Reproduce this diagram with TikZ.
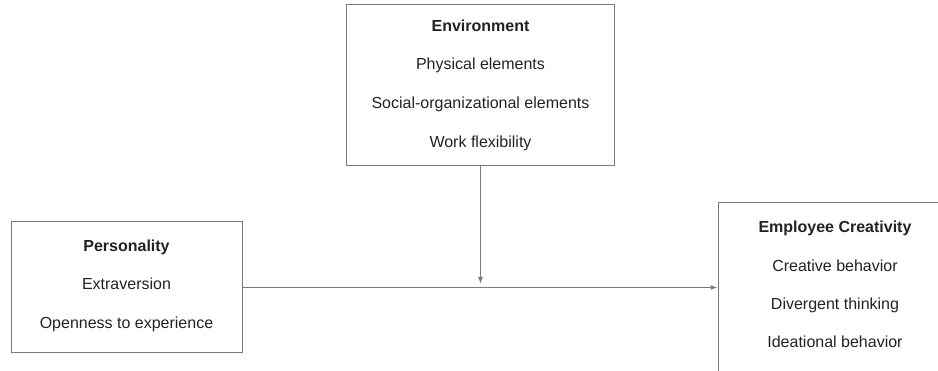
\documentclass[tikz,border=0pt]{standalone}
\usepackage{fontspec}
\setmainfont{Liberation Sans}
\usetikzlibrary{arrows.meta}
\definecolor{edge}{HTML}{7A7A7A}
\definecolor{ink}{HTML}{222222}
\begin{document}
\begin{tikzpicture}[x=1pt,y=-1pt,
  box/.style={draw=edge,line width=1pt,minimum width=#1,inner sep=0pt},
  label/.style={text=ink,font=\fontsize{16}{19}\selectfont,inner sep=0pt,
    text height=11.5pt,text depth=0pt,anchor=center},
  head/.style={label,font=\fontsize{16}{19}\selectfont\bfseries},
  link/.style={draw=edge,line width=1pt,-{Latex[length=7pt,width=5pt]}}]
\useasboundingbox (0,0) rectangle (938,371);
\clip (0,0) rectangle (938,371);

% Environment
\node[box=268pt,minimum height=161pt] (env) at (480.5,85.5) {};
\node[head]  (envT) at (480.5,26)  {Environment};
\node[label] (env1) at (480.5,64)  {Physical elements};
\node[label] (env2) at (480.5,103) {Social-organizational elements};
\node[label] (env3) at (480.5,142) {Work flexibility};

% Personality
\node[box=231pt,minimum height=131pt] (pers) at (126.5,287.5) {};
\node[head]  (persT) at (126.5,246) {Personality};
\node[label] (pers1) at (126.5,284) {Extraversion};
\node[label] (pers2) at (126.5,323) {Openness to experience};

% Employee creativity (runs past the page edge)
\node[box=234pt,minimum height=200pt] (emp) at (835,303) {};
\node[head]  (empT) at (835,227) {Employee Creativity};
\node[label] (emp1) at (835,266) {Creative behavior};
\node[label] (emp2) at (835,304) {Divergent thinking};
\node[label] (emp3) at (835,342) {Ideational behavior};

% Connectors
\coordinate (meet) at (480.5,284);
\draw[link] (pers.east) -- (pers.east -| emp.west);
\draw[link] (env.south) -- (env.south |- meet);
\end{tikzpicture}
\end{document}
